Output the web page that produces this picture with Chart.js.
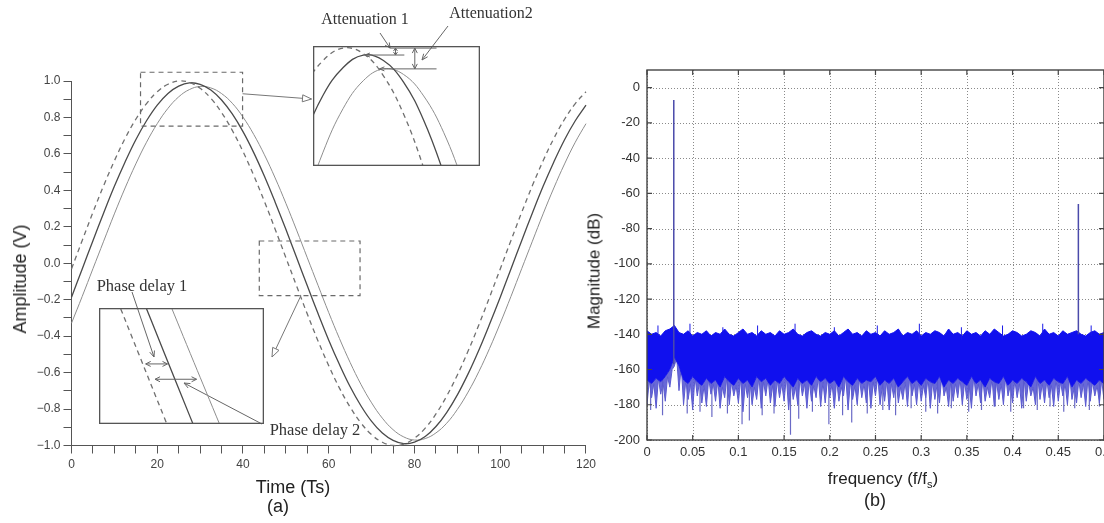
<!DOCTYPE html>
<html><head><meta charset="utf-8">
<script src="https://cdn.jsdelivr.net/npm/chart.js@4.4.1/dist/chart.umd.min.js"></script>
<style>
html,body{margin:0;padding:0;width:1104px;height:523px;overflow:hidden;background:#fff;}
#wrap{position:relative;width:1104px;height:523px;overflow:hidden;background:#fff;}
canvas{position:absolute;}
.lbl{position:absolute;white-space:nowrap;transform:translate(-50%,-50%);font-family:'Liberation Sans',Arial,sans-serif;color:#222;line-height:1;z-index:5;}
.serif{font-family:'Liberation Serif','Times New Roman',serif;color:#333;}
</style></head><body><div id="wrap">
<canvas id="cA" width="600" height="523" style="left:0;top:0;z-index:1"></canvas>
<canvas id="cIn1" width="167" height="120" style="left:313px;top:46px;z-index:2"></canvas>
<canvas id="cIn2" width="165" height="116" style="left:99px;top:308px;z-index:2"></canvas>
<canvas id="cB" width="540" height="523" style="left:578px;top:0;z-index:1"></canvas>
<div class="lbl" style="left:20px;top:279px;font-size:18px;transform:translate(-50%,-50%) rotate(-90deg)">Amplitude (V)</div>
<div class="lbl" style="left:293px;top:487px;font-size:18px">Time (Ts)</div>
<div class="lbl" style="left:278px;top:506px;font-size:18px">(a)</div>
<div class="lbl serif" style="left:365px;top:19px;font-size:16px">Attenuation 1</div>
<div class="lbl serif" style="left:491px;top:13px;font-size:16px">Attenuation2</div>
<div class="lbl serif" style="left:142px;top:286px;font-size:16.5px">Phase delay 1</div>
<div class="lbl serif" style="left:315px;top:430px;font-size:16.5px">Phase delay 2</div>
<div class="lbl" style="left:594px;top:271px;font-size:17px;transform:translate(-50%,-50%) rotate(-90deg)">Magnitude (dB)</div>
<div class="lbl" style="left:883px;top:478px;font-size:17px">frequency (f/f<span style="font-size:11px;position:relative;top:4px">s</span>)</div>
<div class="lbl" style="left:875px;top:500px;font-size:18px">(b)</div>
</div>
<script>
// ================= (a) time-domain data (sampled every 2.5 Ts) =================
const timeStepA = 2.5;
const inputSignal = [-0.031,0.125,0.279,0.426,0.562,0.685,0.790,0.876,0.941,0.982,1.000,0.992,0.960,0.905,0.827,0.729,0.613,0.482,0.339,0.187,0.031,-0.125,-0.279,-0.426,-0.562,-0.685,-0.790,-0.876,-0.941,-0.982,-1.000,-0.992,-0.960,-0.905,-0.827,-0.729,-0.613,-0.482,-0.339,-0.187,-0.031,0.125,0.279,0.426,0.562,0.685,0.790,0.876,0.941];
const output1 = [-0.186,-0.031,0.124,0.276,0.422,0.556,0.678,0.782,0.868,0.932,0.972,0.990,0.982,0.951,0.896,0.819,0.722,0.607,0.477,0.335,0.186,0.031,-0.124,-0.276,-0.422,-0.556,-0.678,-0.782,-0.868,-0.932,-0.972,-0.990,-0.982,-0.951,-0.896,-0.819,-0.722,-0.607,-0.477,-0.335,-0.186,-0.031,0.124,0.276,0.422,0.556,0.678,0.782,0.868];
const output2 = [-0.329,-0.182,-0.030,0.121,0.271,0.413,0.545,0.664,0.766,0.850,0.913,0.953,0.970,0.962,0.931,0.878,0.802,0.707,0.595,0.468,0.329,0.182,0.030,-0.121,-0.271,-0.413,-0.545,-0.664,-0.766,-0.850,-0.913,-0.953,-0.970,-0.962,-0.931,-0.878,-0.802,-0.707,-0.595,-0.468,-0.329,-0.182,-0.030,0.121,0.271,0.413,0.545,0.664,0.766];
const xLabelValuesA = [0,20,40,60,80,100,120];
const xMinorStepA = 5;
const yLabelsA = ['\u22121.0','\u22120.8','\u22120.6','\u22120.4','\u22120.2','0.0','0.2','0.4','0.6','0.8','1.0'];

// ================= (b) spectrum data (bins every 0.005 f/fs) =================
const binStep = 0.005;
const noiseTop = [-138,-140,-139,-141,-138,-137,-135,-139,-140,-138,
 -141,-139,-140,-138,-141,-139,-140,-137,-140,-141,
 -139,-137,-140,-139,-141,-138,-140,-139,-141,-138,
 -140,-139,-137,-140,-141,-139,-138,-140,-141,-139,
 -140,-138,-141,-139,-137,-140,-139,-141,-138,-140,
 -139,-141,-138,-140,-139,-137,-141,-139,-140,-138,
 -141,-139,-140,-138,-139,-141,-137,-140,-139,-141,
 -138,-140,-139,-141,-138,-140,-137,-139,-141,-140,
 -138,-139,-141,-140,-138,-139,-141,-137,-140,-139,
 -141,-138,-140,-139,-138,-140,-141,-139,-138,-140,-139];
const noiseBottom = [-166,-168,-165,-167,-164,-160,-153,-158,-166,-168,
 -164,-167,-169,-165,-168,-166,-170,-164,-167,-169,
 -165,-168,-166,-170,-164,-167,-165,-169,-166,-168,
 -164,-167,-170,-165,-168,-166,-169,-164,-167,-165,
 -168,-166,-170,-164,-167,-169,-165,-168,-166,-167,
 -164,-169,-166,-168,-165,-170,-167,-164,-168,-166,
 -169,-165,-167,-168,-164,-170,-166,-168,-165,-167,
 -169,-164,-168,-166,-170,-165,-167,-168,-164,-169,
 -166,-168,-165,-167,-170,-164,-168,-166,-169,-165,
 -167,-168,-164,-170,-166,-168,-165,-167,-169,-166,-168];
const noiseFringe = [-180,-176,-182,-174,-178,-170,-158,-172,-180,-177,
 -183,-175,-179,-181,-174,-178,-182,-176,-180,-175,
 -179,-184,-176,-180,-177,-182,-175,-179,-181,-176,
 -178,-183,-177,-180,-175,-182,-178,-176,-181,-179,
 -176,-182,-178,-175,-183,-177,-180,-176,-179,-182,
 -175,-180,-178,-183,-176,-179,-177,-181,-175,-180,
 -178,-176,-182,-177,-179,-175,-181,-178,-176,-180,
 -177,-182,-175,-179,-178,-176,-181,-177,-180,-175,
 -179,-176,-182,-178,-175,-180,-177,-179,-176,-181,
 -178,-175,-180,-177,-179,-176,-181,-178,-175,-179,-177];
const dipFreq = [0.004,0.017,0.044,0.058,0.071,0.088,0.104,0.112,0.126,0.139,0.157,0.166,0.181,0.199,0.214,0.224,0.241,0.258,0.272,0.289,0.305,0.318,0.333,0.352,0.366,0.381,0.398,0.412,0.427,0.441,0.456,0.468,0.484,0.495];
const dipLevel = [-183,-186,-185,-184,-187,-185,-191,-189,-186,-185,-197,-188,-184,-191,-186,-190,-185,-183,-186,-182,-184,-185,-182,-184,-183,-181,-184,-182,-183,-181,-184,-182,-183,-181];
const peakFreq = [0.012,0.047,0.083,0.121,0.162,0.205,0.252,0.298,0.344,0.389,0.433,0.486];
const peakLevel = [-135,-134,-136,-135,-134,-136,-135,-134,-136,-135,-134,-135];
const toneFreq = [0.0293,0.472];
const toneLevel = [-7,-66];
const toneBase = [-157,-140];
const xTicksB = [0,0.05,0.1,0.15,0.2,0.25,0.3,0.35,0.4,0.45,0.5];
const xTickLabelsB = ['0','0.05','0.1','0.15','0.2','0.25','0.3','0.35','0.4','0.45','0.5'];
const yTicksB = [0,-20,-40,-60,-80,-100,-120,-140,-160,-180,-200];
const yTickLabelsB = ['0','-20','-40','-60','-80','-100','-120','-140','-160','-180','-200'];

Chart.defaults.font.family = "'Liberation Sans', Arial, sans-serif";

// ---------- helpers ----------
const timeA = inputSignal.map((_, i) => i * timeStepA);
const series = vals => vals.map((v, i) => ({x: timeA[i], y: v}));
function head(ctx, x1, y1, x2, y2, len, half, hollow) {
  const a = Math.atan2(y2 - y1, x2 - x1);
  const bx = x2 - len * Math.cos(a), by = y2 - len * Math.sin(a);
  const px = -Math.sin(a) * half, py = Math.cos(a) * half;
  ctx.beginPath();
  if (hollow) {
    ctx.moveTo(x2, y2); ctx.lineTo(bx + px, by + py); ctx.lineTo(bx - px, by - py); ctx.closePath();
    ctx.fillStyle = '#fff'; ctx.fill(); ctx.stroke();
  } else {
    ctx.moveTo(bx + px, by + py); ctx.lineTo(x2, y2); ctx.lineTo(bx - px, by - py); ctx.stroke();
  }
}
function arrow(ctx, x1, y1, x2, y2, opts) {
  ctx.beginPath(); ctx.moveTo(x1, y1); ctx.lineTo(x2, y2); ctx.stroke();
  if (opts.end) head(ctx, x1, y1, x2, y2, opts.len || 6, opts.half || 3, opts.hollow);
  if (opts.start) head(ctx, x2, y2, x1, y1, opts.len || 6, opts.half || 3, opts.hollow);
}
const lineStyles = [
  {label: 'Input', borderColor: '#707070', borderWidth: 1.3, borderDash: [5, 4]},
  {label: 'Output 1', borderColor: '#4a4a4a', borderWidth: 1.3},
  {label: 'Output 2', borderColor: '#8e8e8e', borderWidth: 1.0}
];
function datasetsA(clip) {
  return [inputSignal, output1, output2].map((vals, i) => Object.assign({
    data: series(vals), pointRadius: 0, tension: 0.4, fill: false, clip: clip
  }, lineStyles[i]));
}
const baseOpts = {
  responsive: false, animation: false, devicePixelRatio: 1,
  plugins: {legend: {display: false}, tooltip: {enabled: false}},
  elements: {line: {capBezierPoints: false}}, events: []
};

// ---------- (a) main chart ----------
const zoomRects = [{t0: 16.1, t1: 39.9, y0: 0.752, y1: 1.048}, {t0: 43.8, t1: 67.3, y0: -0.178, y1: 0.122}];
const annotA = {
  id: 'annotA',
  afterDraw(chart) {
    const ctx = chart.ctx, sx = v => chart.scales.x.getPixelForValue(v), sy = v => chart.scales.y.getPixelForValue(v);
    ctx.save();
    ctx.strokeStyle = '#6a6a6a'; ctx.lineWidth = 1.2; ctx.setLineDash([5, 4]);
    zoomRects.forEach(r => ctx.strokeRect(sx(r.t0), sy(r.y1), sx(r.t1) - sx(r.t0), sy(r.y0) - sy(r.y1)));
    ctx.setLineDash([]);
    ctx.lineWidth = 1; ctx.strokeStyle = '#777';
    arrow(ctx, sx(39.9), sy(0.93), 311.5, 99, {end: true, hollow: true, len: 9, half: 3.5});
    arrow(ctx, sx(53.5), sy(-0.178), 272, 357, {end: true, hollow: true, len: 9, half: 3.5});
    ctx.strokeStyle = '#666';
    arrow(ctx, 132, 292, 154, 357, {end: true, len: 6, half: 2.5});
    arrow(ctx, 262, 424, 184, 383, {end: true, len: 6, half: 2.5});
    arrow(ctx, 380, 33, 390, 48, {end: true, len: 5, half: 2.5});
    arrow(ctx, 448, 26, 422, 60, {end: true, len: 6, half: 2.5});
    ctx.restore();
  }
};
const tickFontA = {size: 12};
new Chart(document.getElementById('cA'), {
  type: 'line',
  data: {datasets: datasetsA(false)},
  options: Object.assign({}, baseOpts, {
    layout: {autoPadding: false, padding: {left: 0, top: 81, right: 12.5, bottom: 37.5}},
    scales: {
      x: {type: 'linear', min: 0, max: 120,
        afterFit: s => { s.height = 40; },
        afterBuildTicks: s => { const t = []; for (let v = 0; v <= 120; v += xMinorStepA) t.push({value: v}); s.ticks = t; },
        ticks: {autoSkip: false, maxRotation: 0, padding: 4, color: '#444', font: tickFontA,
          callback: v => xLabelValuesA.includes(v) ? String(v) : ''},
        grid: {display: true, drawOnChartArea: false, drawTicks: true, tickLength: 8, color: '#555', lineWidth: 1},
        border: {display: true, color: '#555', width: 1}},
      y: {type: 'linear', min: -1, max: 1,
        afterFit: s => { s.width = 71.5; },
        afterBuildTicks: s => { const t = []; for (let k = -10; k <= 10; k++) t.push({value: k / 10}); s.ticks = t; },
        ticks: {autoSkip: false, padding: 3, color: '#444', font: tickFontA,
          callback: v => { const k = Math.round(v * 10); return k % 2 === 0 ? yLabelsA[(k + 10) / 2] : ''; }},
        grid: {display: true, drawOnChartArea: false, drawTicks: true, tickLength: 8, color: '#555', lineWidth: 1},
        border: {display: true, color: '#555', width: 1}}
    }
  }),
  plugins: [annotA]
});

// ---------- (a) insets ----------
function insetChart(id, xr, yr, drawExtra) {
  new Chart(document.getElementById(id), {
    type: 'line',
    data: {datasets: datasetsA(true)},
    options: Object.assign({}, baseOpts, {
      layout: {autoPadding: false, padding: 0},
      scales: {
        x: {type: 'linear', min: xr[0], max: xr[1], display: false},
        y: {type: 'linear', min: yr[0], max: yr[1], display: false}
      }
    }),
    plugins: [{id: 'inset', afterDraw(chart) {
      const ctx = chart.ctx, a = chart.chartArea;
      ctx.save();
      ctx.strokeStyle = '#666'; ctx.lineWidth = 1;
      drawExtra(ctx, v => chart.scales.x.getPixelForValue(v), v => chart.scales.y.getPixelForValue(v));
      ctx.strokeStyle = '#555'; ctx.lineWidth = 1.3;
      ctx.strokeRect(a.left + 0.65, a.top + 0.65, a.right - a.left - 1.3, a.bottom - a.top - 1.3);
      ctx.restore();
    }}]
  });
}
const peakIn = Math.max(...inputSignal), peakO1 = Math.max(...output1), peakO2 = Math.max(...output2);
insetChart('cIn1', [21.25, 42], [0.83, 1.003], (ctx, sx, sy) => {
  arrow(ctx, sx(30.8), sy(peakIn), sx(36.6), sy(peakIn), {});
  arrow(ctx, sx(32.6), sy(peakO1), sx(27.7), sy(peakO1), {end: true, len: 5, half: 2});
  arrow(ctx, sx(36.6), sy(peakO2), sx(29.5), sy(peakO2), {end: true, len: 5, half: 2});
  arrow(ctx, sx(31.5), sy(peakIn), sx(31.5), sy(peakO1), {start: true, end: true, len: 3, half: 2});
  arrow(ctx, sx(33.9), sy(peakIn), sx(33.9), sy(peakO2), {start: true, end: true, len: 5, half: 2.5});
});
insetChart('cIn2', [46.2, 62.1], [-0.14, 0.14], (ctx, sx, sy) => {
  arrow(ctx, sx(50.7), sy(0.005), sx(52.8), sy(0.005), {start: true, end: true, len: 5, half: 2.5});
  arrow(ctx, sx(51.6), sy(-0.032), sx(55.6), sy(-0.032), {start: true, end: true, len: 5, half: 2.5});
});

// ---------- (b) spectrum ----------
const freqBins = noiseTop.map((_, i) => +(i * binStep).toFixed(4));
const nearest = f => Math.min(noiseTop.length - 1, Math.round(f / binStep));
const binPts = ys => ys.map((y, i) => ({x: freqBins[i], y}));
const fringePts = [];
noiseFringe.forEach((y, i) => {
  fringePts.push({x: freqBins[i], y});
  if (i < noiseFringe.length - 1) fringePts.push({x: freqBins[i] + binStep / 2, y: noiseBottom[i]});
});
function spikes(fs, levels, baseFn) {
  const out = [];
  fs.forEach((f, j) => { out.push({x: f, y: baseFn(f, j)}, {x: f, y: levels[j]}, {x: f, y: null}); });
  return out;
}
const lineBase = {pointRadius: 0, tension: 0, spanGaps: false, borderWidth: 1};
const frameB = {
  id: 'frameB',
  beforeDatasetsDraw(chart) {
    const ctx = chart.ctx, a = chart.chartArea, sx = chart.scales.x, sy = chart.scales.y;
    ctx.save(); ctx.strokeStyle = '#8a8a8a'; ctx.lineWidth = 1; ctx.setLineDash([1, 2]);
    xTicksB.forEach(v => { const p = Math.round(sx.getPixelForValue(v)) + 0.5; ctx.beginPath(); ctx.moveTo(p, a.top); ctx.lineTo(p, a.bottom); ctx.stroke(); });
    yTicksB.forEach(v => { const p = Math.round(sy.getPixelForValue(v)) + 0.5; ctx.beginPath(); ctx.moveTo(a.left, p); ctx.lineTo(a.right, p); ctx.stroke(); });
    ctx.restore();
  },
  afterDatasetsDraw(chart) {
    const ctx = chart.ctx, a = chart.chartArea, sx = chart.scales.x, sy = chart.scales.y;
    ctx.save(); ctx.strokeStyle = '#444'; ctx.lineWidth = 1.4;
    ctx.strokeRect(a.left, a.top, a.right - a.left, a.bottom - a.top);
    ctx.lineWidth = 1.2;
    xTicksB.forEach(v => { const p = sx.getPixelForValue(v); ctx.beginPath(); ctx.moveTo(p, a.top); ctx.lineTo(p, a.top + 5); ctx.moveTo(p, a.bottom); ctx.lineTo(p, a.bottom - 5); ctx.stroke(); });
    yTicksB.forEach(v => { const p = sy.getPixelForValue(v); ctx.beginPath(); ctx.moveTo(a.left, p); ctx.lineTo(a.left + 5, p); ctx.moveTo(a.right, p); ctx.lineTo(a.right - 5, p); ctx.stroke(); });
    ctx.restore();
  }
};
new Chart(document.getElementById('cB'), {
  type: 'line',
  data: {datasets: [
    Object.assign({}, lineBase, {label: 'Tones', data: spikes(toneFreq, toneLevel, (f, j) => toneBase[j]), borderColor: '#4a4aaa', borderWidth: 1.5, order: 0}),
    Object.assign({}, lineBase, {label: 'Noise peaks', data: spikes(peakFreq, peakLevel, f => noiseTop[nearest(f)] - 2), borderColor: '#1a1ae8', order: 1}),
    Object.assign({}, lineBase, {label: 'Noise floor', data: binPts(noiseTop), borderColor: '#1010ee', backgroundColor: '#1010ee', fill: '+1', order: 2}),
    Object.assign({}, lineBase, {label: 'Noise floor low', data: binPts(noiseBottom), borderColor: '#2626e0', order: 3}),
    Object.assign({}, lineBase, {label: 'Noise fringe', data: fringePts, borderColor: '#5a5ad0', backgroundColor: 'rgba(88,88,212,0.9)', fill: '-1', order: 4}),
    Object.assign({}, lineBase, {label: 'Noise dips', data: spikes(dipFreq, dipLevel, f => noiseBottom[nearest(f)] + 2), borderColor: '#6a6ac6', borderWidth: 1.2, order: 5})
  ]},
  options: Object.assign({}, baseOpts, {
    layout: {autoPadding: false, padding: {left: 0, top: 70, right: 11, bottom: 53}},
    scales: {
      x: {type: 'linear', min: 0, max: 0.5,
        afterFit: s => { s.height = 30; },
        afterBuildTicks: s => { s.ticks = xTicksB.map(v => ({value: v})); },
        ticks: {autoSkip: false, maxRotation: 0, padding: 5, color: '#333', font: {size: 13},
          callback: (v, i) => xTickLabelsB[i]},
        grid: {display: false, drawTicks: false}, border: {display: false}},
      y: {type: 'linear', min: -200, max: 10,
        afterFit: s => { s.width = 69; },
        afterBuildTicks: s => { s.ticks = yTicksB.map(v => ({value: v})); },
        ticks: {autoSkip: false, padding: 7, color: '#333', font: {size: 13},
          callback: (v, i) => yTickLabelsB[i]},
        grid: {display: false, drawTicks: false}, border: {display: false}}
    }
  }),
  plugins: [frameB]
});
</script>
</body></html>
